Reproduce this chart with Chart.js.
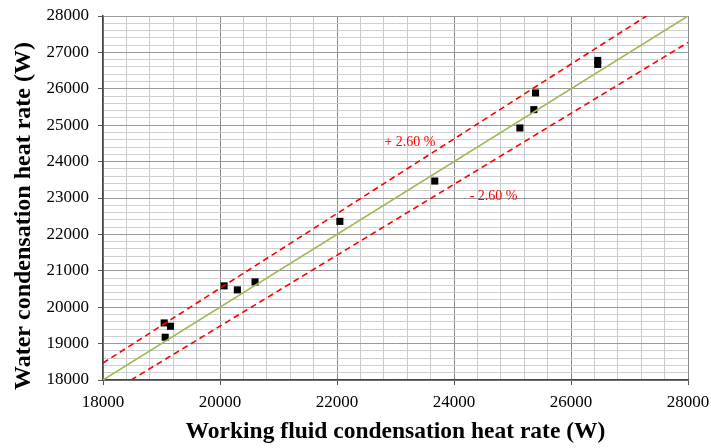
<!DOCTYPE html>
<html>
<head>
<meta charset="utf-8">
<script src="https://cdn.jsdelivr.net/npm/chart.js@4/dist/chart.umd.min.js"></script>
<style>
  html, body { margin: 0; padding: 0; background: #fff; }
  #wrap { width: 711px; height: 448px; }
</style>
</head>
<body>
<div id="wrap"><canvas id="chart"></canvas></div>
<script>
// measured points (W)
const fluidHeat = [19046, 19154, 19063, 20070, 20297, 20599, 22049, 23671, 25126, 25365, 25394, 26457, 26457];
const waterHeat = [19568, 19477, 19175, 20586, 20476, 20696, 22358, 23466, 24924, 25428, 25887, 26670, 26780];

// reference lines
const fitX = [18000, 28000];
const fitY = [18000, 28000];
const upperX = [18000, 27290];
const upperY = [18468, 28000];
const lowerX = [18480, 28000];
const lowerY = [18000, 27272];

const xTicks = [18000, 20000, 22000, 24000, 26000, 28000];
const yTicks = [18000, 19000, 20000, 21000, 22000, 23000, 24000, 25000, 26000, 27000, 28000];

const toPts = (xs, ys) => xs.map((x, i) => ({ x: x, y: ys[i] }));

const serif = "'Liberation Serif', 'Times New Roman', serif";

// band labels placed in data coordinates, y title drawn by hand (sits a bit low in the original)
const annotations = {
  id: 'annotations',
  afterDatasetsDraw(chart) {
    const { ctx, scales: { x, y } } = chart;
    ctx.save();
    ctx.fillStyle = '#ff0000';
    ctx.font = '14px ' + serif;
    ctx.textAlign = 'center';
    ctx.textBaseline = 'middle';
    ctx.fillText('+ 2.60 %', x.getPixelForValue(23244), y.getPixelForValue(24520));
    ctx.fillText('- 2.60 %', x.getPixelForValue(24677), y.getPixelForValue(23034));
    ctx.restore();
  },
  afterDraw(chart) {
    const { ctx } = chart;
    ctx.save();
    ctx.translate(24, 216);
    ctx.rotate(-Math.PI / 2);
    ctx.fillStyle = '#000';
    ctx.font = 'bold 24px ' + serif;
    ctx.textAlign = 'center';
    ctx.textBaseline = 'middle';
    ctx.fillText('Water condensation heat rate (W)', 0, 0);
    ctx.restore();
  }
};

const isMajorX = v => xTicks.includes(v);
const isMajorY = v => yTicks.includes(v);

new Chart(document.getElementById('chart'), {
  type: 'scatter',
  data: {
    datasets: [
      {
        label: 'y = x',
        data: toPts(fitX, fitY),
        showLine: true,
        borderColor: '#9bbb59',
        borderWidth: 1.6,
        pointRadius: 0
      },
      {
        label: '+2.6%',
        data: toPts(upperX, upperY),
        showLine: true,
        borderColor: '#ff0000',
        borderWidth: 1.6,
        borderDash: [6, 4],
        pointRadius: 0
      },
      {
        label: '-2.6%',
        data: toPts(lowerX, lowerY),
        showLine: true,
        borderColor: '#ff0000',
        borderWidth: 1.6,
        borderDash: [6, 4],
        pointRadius: 0
      },
      {
        label: 'Measured',
        data: toPts(fluidHeat, waterHeat),
        pointStyle: 'rect',
        pointRadius: 5,
        backgroundColor: '#000',
        borderColor: '#000',
        borderWidth: 0
      }
    ]
  },
  options: {
    responsive: true,
    maintainAspectRatio: false,
    animation: false,
    layout: { padding: { top: 16, right: 23, bottom: 0, left: 0 } },
    plugins: {
      legend: { display: false },
      tooltip: { enabled: false }
    },
    scales: {
      x: {
        type: 'linear',
        min: 18000,
        max: 28000,
        afterFit: s => { s.height = 68; s.paddingLeft = 0; s.paddingRight = 0; },
        ticks: {
          stepSize: 400,
          autoSkip: false,
          maxRotation: 0,
          padding: 7,
          color: '#000',
          font: { family: serif, size: 17 },
          callback: v => isMajorX(v) ? String(v) : ''
        },
        grid: {
          color: c => isMajorX(c.tick.value) ? '#8c8c8c' : '#cccccc',
          tickColor: c => isMajorX(c.tick.value) ? '#555' : 'rgba(0,0,0,0)',
          tickLength: 5,
          lineWidth: 1
        },
        border: { color: '#444', width: 1.5 },
        title: {
          display: true,
          text: 'Working fluid condensation heat rate (W)',
          color: '#000',
          font: { family: serif, size: 23.5, weight: 'bold' },
          padding: { top: 0, bottom: 2 }
        }
      },
      y: {
        type: 'linear',
        min: 18000,
        max: 28000,
        afterFit: s => { s.width = 103; s.paddingTop = 0; s.paddingBottom = 0; },
        ticks: {
          stepSize: 200,
          autoSkip: false,
          padding: 9,
          color: '#000',
          font: { family: serif, size: 17 },
          callback: v => isMajorY(v) ? String(v) : ''
        },
        grid: {
          color: c => isMajorY(c.tick.value) ? '#9a9a9a' : '#cfcfcf',
          tickColor: c => isMajorY(c.tick.value) ? '#555' : 'rgba(0,0,0,0)',
          tickLength: 5,
          lineWidth: 1
        },
        border: { color: '#444', width: 1.5 }
      }
    }
  },
  plugins: [annotations]
});
</script>
</body>
</html>
